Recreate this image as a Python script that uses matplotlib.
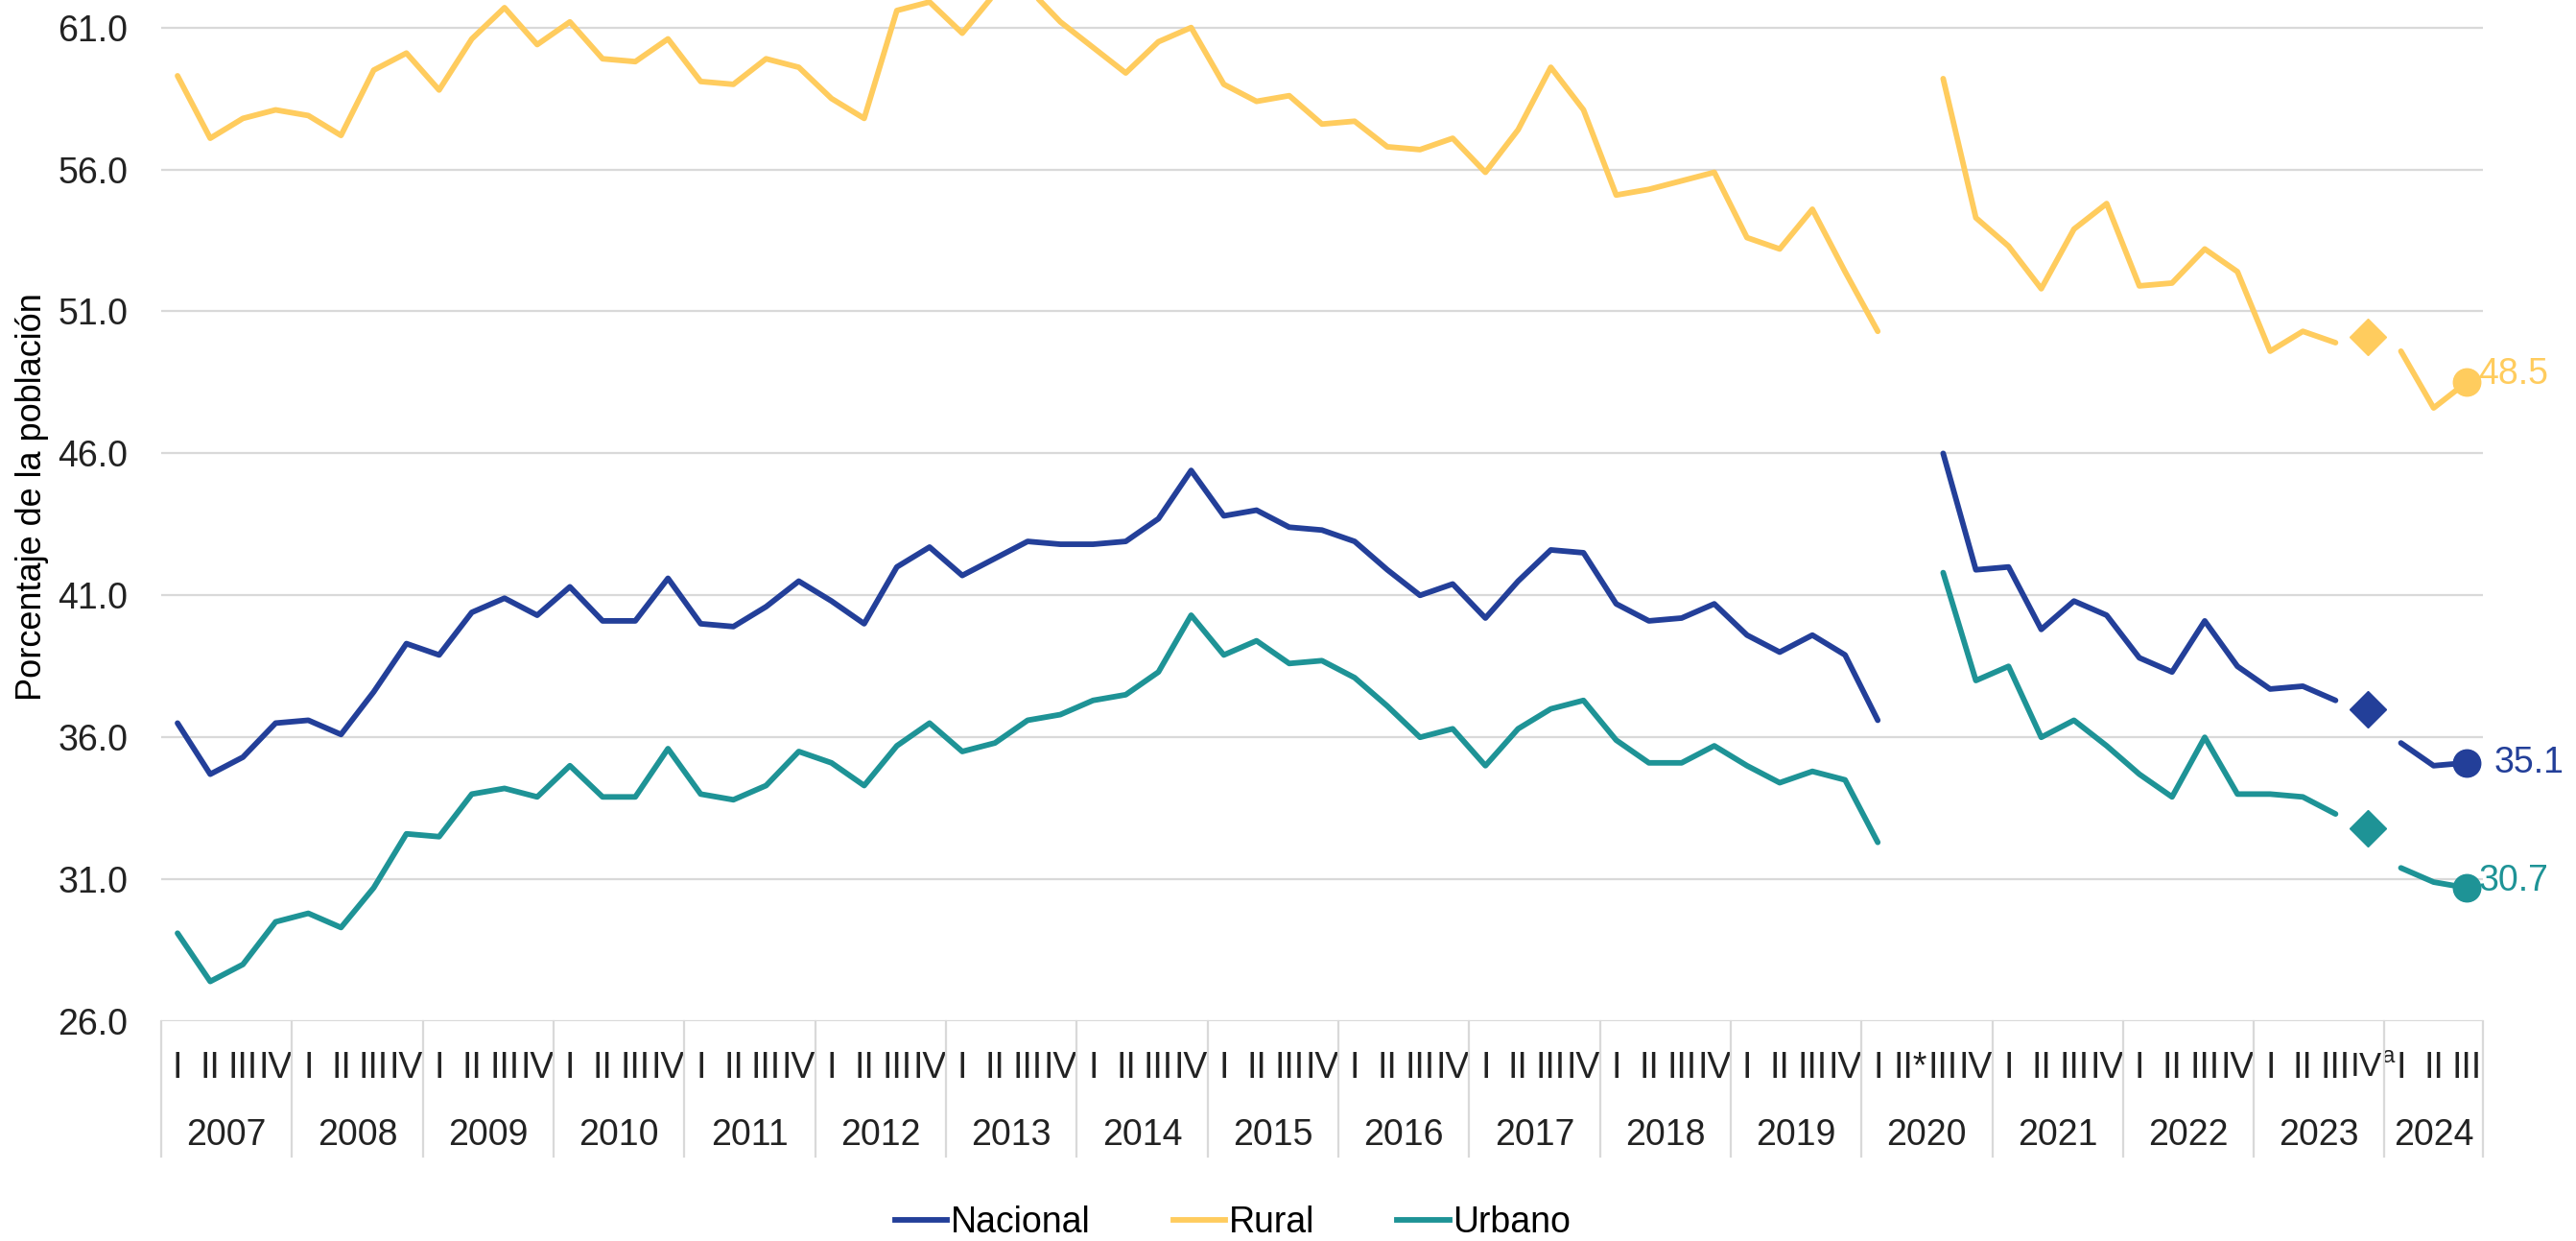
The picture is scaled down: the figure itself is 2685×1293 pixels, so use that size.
import numpy as np
import matplotlib
matplotlib.use('Agg')
import matplotlib.pyplot as plt
import matplotlib.transforms as mtransforms
from matplotlib.lines import Line2D

plt.rcParams['font.family'] = ['Liberation Sans', 'DejaVu Sans']
plt.rcParams['mathtext.fontset'] = 'custom'
plt.rcParams['mathtext.rm'] = 'Liberation Sans'

# --- data (quarterly, 2007 I .. 2024 III; 2020 II missing) ---
years = list(range(2007, 2025))
quarter_names = {
    2020: ['I', 'II*', 'III', 'IV'],
    2023: ['I', 'II', 'III', r'IV$^{\rm a}$'],
    2024: ['I', 'II', 'III'],
}

nacional = [36.5, 34.7, 35.3, 36.5, 36.6, 36.1, 37.6, 39.3, 38.9, 40.4, 40.9, 40.3,
            41.3, 40.1, 40.1, 41.6, 40.0, 39.9, 40.6, 41.5, 40.8, 40.0, 42.0, 42.7,
            41.7, 42.3, 42.9, 42.8, 42.8, 42.9, 43.7, 45.4, 43.8, 44.0, 43.4, 43.3,
            42.9, 41.9, 41.0, 41.4, 40.2, 41.5, 42.6, 42.5, 40.7, 40.1, 40.2, 40.7,
            39.6, 39.0, 39.6, 38.9, 36.6, None, 46.0, 41.9, 42.0, 39.8, 40.8, 40.3,
            38.8, 38.3, 40.1, 38.5, 37.7, 37.8, 37.3, 37.0, 35.8, 35.0, 35.1]

rural = [59.3, 57.1, 57.8, 58.1, 57.9, 57.2, 59.5, 60.1, 58.8, 60.6, 61.7, 60.4,
         61.2, 59.9, 59.8, 60.6, 59.1, 59.0, 59.9, 59.6, 58.5, 57.8, 61.6, 61.9,
         60.8, 62.2, 62.4, 61.2, 60.3, 59.4, 60.5, 61.0, 59.0, 58.4, 58.6, 57.6,
         57.7, 56.8, 56.7, 57.1, 55.9, 57.4, 59.6, 58.1, 55.1, 55.3, 55.6, 55.9,
         53.6, 53.2, 54.6, 52.4, 50.3, None, 59.2, 54.3, 53.3, 51.8, 53.9, 54.8,
         51.9, 52.0, 53.2, 52.4, 49.6, 50.3, 49.9, 50.1, 49.6, 47.6, 48.5]

urbano = [29.1, 27.4, 28.0, 29.5, 29.8, 29.3, 30.7, 32.6, 32.5, 34.0, 34.2, 33.9,
          35.0, 33.9, 33.9, 35.6, 34.0, 33.8, 34.3, 35.5, 35.1, 34.3, 35.7, 36.5,
          35.5, 35.8, 36.6, 36.8, 37.3, 37.5, 38.3, 40.3, 38.9, 39.4, 38.6, 38.7,
          38.1, 37.1, 36.0, 36.3, 35.0, 36.3, 37.0, 37.3, 35.9, 35.1, 35.1, 35.7,
          35.0, 34.4, 34.8, 34.5, 32.3, None, 41.8, 38.0, 38.5, 36.0, 36.6, 35.7,
          34.7, 33.9, 36.0, 34.0, 34.0, 33.9, 33.3, 32.8, 31.4, 30.9, 30.7]

series = [('Nacional', nacional, '#233F99', (21, 0)),
          ('Rural', rural, '#FFCC5E', (9, 6)),
          ('Urbano', urbano, '#1E9396', (9, 5))]

# quarter labels / year spans
q_labels = []
year_start = []
for y in years:
    year_start.append(len(q_labels))
    q_labels += quarter_names.get(y, ['I', 'II', 'III', 'IV'])
n = len(q_labels)
x = np.arange(n)

fs = 27
fig = plt.figure(figsize=(26.85, 12.93), dpi=100)
ax = fig.add_axes([0.06257, 0.17711, 0.9012, 37 * 0.022877])

lw = 4.2
for name, vals, color, off in series:
    v = np.array([np.nan if a is None else a for a in vals], dtype=float)
    ax.plot(x[:67], v[:67], color=color, lw=lw, solid_capstyle='round', solid_joinstyle='round')
    ax.plot(x[67], v[67], marker='D', ms=19, color=color, ls='none')
    ax.plot(x[68:], v[68:], color=color, lw=lw, solid_capstyle='round', solid_joinstyle='round')
    ax.plot(x[-1], v[-1], marker='o', ms=20.5, color=color, ls='none')
    ax.annotate(f'{v[-1]:.1f}', (x[-1], v[-1]), xytext=off, textcoords='offset points',
                color=color, fontsize=fs, ha='left', va='center')

ax.set_xlim(-0.5, n - 0.5)
ax.set_ylim(26, 63)
ax.set_yticks(np.arange(26, 62, 5))
ax.set_yticklabels([f'{t:.1f}' for t in np.arange(26, 62, 5)], fontsize=fs, color='#222222')
ax.tick_params(axis='y', length=0, pad=25)
ax.set_xticks([])
ax.yaxis.grid(True, color='#D9D9D9', lw=1.6)
ax.set_axisbelow(True)
for s in ax.spines.values():
    s.set_visible(False)

# two-level category axis
trans = mtransforms.blended_transform_factory(ax.transData, fig.transFigure)
for i, lab in enumerate(q_labels):
    sup = lab.startswith('IV$')
    ax.text(x[i] + (0.15 if sup else 0), 0.1394, lab, transform=trans,
            ha='center', va='center', fontsize=25 if sup else fs, color='#222222')
bounds = year_start + [n]
for k, y in enumerate(years):
    mid = (bounds[k] + bounds[k + 1] - 1) / 2
    ax.text(mid, 0.0848, str(y), transform=trans, ha='center', va='center',
            fontsize=fs, color='#222222')
for b in bounds:
    fig.add_artist(Line2D([b - 0.5, b - 0.5], [0.17711, 0.0677], transform=trans,
                          color='#D9D9D9', lw=1.6))

fig.text(0.0123, 0.600, 'Porcentaje de la población', rotation=90,
         ha='center', va='center', fontsize=26, color='black')

handles = [Line2D([], [], color=c, lw=lw) for _, _, c, _ in series]
fig.legend(handles, [s[0] for s in series], loc='center', bbox_to_anchor=(0.4786, 0.0147),
           ncol=3, frameon=False, fontsize=fs, handlelength=1.45, handletextpad=0.1,
           columnspacing=2.3)

plt.savefig('out.png', dpi=100)
